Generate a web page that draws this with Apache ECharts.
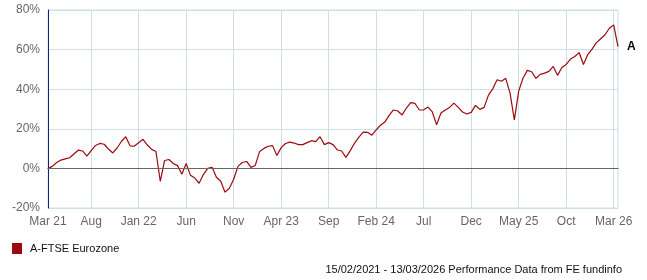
<!DOCTYPE html>
<html>
<head>
<meta charset="utf-8">
<script src="https://cdn.jsdelivr.net/npm/echarts@6/dist/echarts.min.js"></script>
<style>
html,body{margin:0;padding:0;background:#fff;}
#chart{width:647px;height:280px;}
</style>
</head>
<body>
<div id="chart"></div>
<script>
// Cumulative performance (%) of A-FTSE Eurozone, roughly fortnightly, 15/02/2021 - 13/03/2026
const values = [
  0, 1.0, 3.0, 4.2, 4.8, 5.4, 7.3, 9.2, 8.8, 6.2,
  9.0, 11.6, 12.6, 12.2, 9.8, 7.8, 10.3, 13.6, 16.0, 11.4,
  11.3, 13.0, 14.7, 11.8, 9.6, 8.5, -6.5, 4.0, 4.5, 2.5,
  1.4, -3.0, 2.5, -3.5, -4.9, -7.5, -3.0, 0.0, 0.6, -4.5,
  -6.5, -12.0, -10.0, -5.5, 1.0, 3.0, 3.5, 0.5, 1.5, 8.5,
  10.1, 11.2, 11.5, 6.5, 10.5, 12.6, 13.3, 12.8, 12.0, 12.0,
  13.0, 14.0, 13.5, 16.0, 12.0, 13.0, 12.0, 9.3, 8.8, 5.6,
  9.0, 12.8, 15.8, 18.3, 18.2, 16.8, 19.5, 21.8, 23.4, 26.8,
  29.5, 29.0, 27.0, 30.5, 33.2, 32.8, 29.5, 29.6, 31.0, 28.5,
  22.0, 28.0, 29.5, 30.8, 33.0, 30.8, 28.5, 27.5, 28.3, 31.8,
  29.8, 30.8, 37.0, 40.2, 44.8, 44.0, 45.5, 38.0, 24.5, 39.0,
  45.5, 49.5, 48.8, 45.5, 47.5, 48.1, 49.0, 51.5, 47.0, 51.0,
  52.5, 55.2, 56.5, 58.5, 52.5, 57.5, 60.2, 63.5, 65.5, 67.5,
  70.8, 72.5, 61.5
];
// x-axis tick labels and the data point each one sits on
const tickLabels = ["Mar 21","Aug","Jan 22","Jun","Nov","Apr 23","Sep","Feb 24","Jul","Dec","May 25","Oct","Mar 26"];
const tickPoint  = [0, 10, 21, 32, 43, 54, 65, 76, 87, 98, 109, 120, 131];
const yTicks = [-20, 0, 20, 40, 60, 80];
const seriesName = "A-FTSE Eurozone";
const seriesTag = "A";
const footer = "15/02/2021 - 13/03/2026 Performance Data from FE fundinfo";

const tickMap = {};
tickPoint.forEach((p, k) => { tickMap[p] = tickLabels[k]; });
const categories = values.map((v, i) => String(i));
const isTick = (i) => tickMap[i] !== undefined;

const FONT = "'Liberation Sans', Arial, sans-serif";
const RED = '#9c0a0e';
const GRID = '#cddfe9';
const NAVY = '#0a2677';

const chart = echarts.init(document.getElementById('chart'), null, {renderer: 'canvas'});
chart.setOption({
  animation: false,
  backgroundColor: '#fff',
  textStyle: {fontFamily: FONT},
  grid: {left: 48, top: 10, right: 29, height: 198, show: true, borderColor: GRID, borderWidth: 1, backgroundColor: 'transparent'},
  legend: {
    left: 7, top: 238, icon: 'rect', itemWidth: 10, itemHeight: 11,
    textStyle: {fontFamily: FONT, fontSize: 11, color: '#111', padding: [0, 0, 0, 3]},
    data: [seriesName]
  },
  graphic: [{
    type: 'text', right: 25, top: 264,
    style: {text: footer, font: '11px ' + FONT, fill: '#111'}
  }],
  xAxis: {
    type: 'category', data: categories, boundaryGap: false,
    axisLine: {show: true, lineStyle: {color: NAVY, width: 1}},
    axisTick: {show: false},
    axisLabel: {interval: (i) => isTick(i), formatter: (v, i) => tickMap[i] || '', color: '#666', fontSize: 12, fontFamily: FONT, margin: 8},
    splitLine: {show: true, interval: (i) => isTick(i), lineStyle: {color: GRID, width: 1}}
  },
  yAxis: {
    type: 'value', min: yTicks[0], max: yTicks[yTicks.length - 1], interval: 20,
    axisLine: {show: true, lineStyle: {color: NAVY, width: 1}},
    axisTick: {show: false},
    axisLabel: {formatter: '{value}%', color: '#666', fontSize: 12, fontFamily: FONT, margin: 8},
    splitLine: {show: true, lineStyle: {color: GRID, width: 1}}
  },
  series: [{
    name: seriesName, type: 'line', data: values, showSymbol: false, symbol: 'none',
    lineStyle: {color: RED, width: 1.2}, itemStyle: {color: RED},
    endLabel: {show: true, formatter: seriesTag, color: '#000', fontWeight: 'bold', fontSize: 12, fontFamily: FONT, distance: 9},
    markLine: {
      silent: true, symbol: 'none', label: {show: false},
      lineStyle: {color: '#666', width: 1, type: 'solid'},
      data: [{yAxis: 0}]
    }
  }]
});
</script>
</body>
</html>
